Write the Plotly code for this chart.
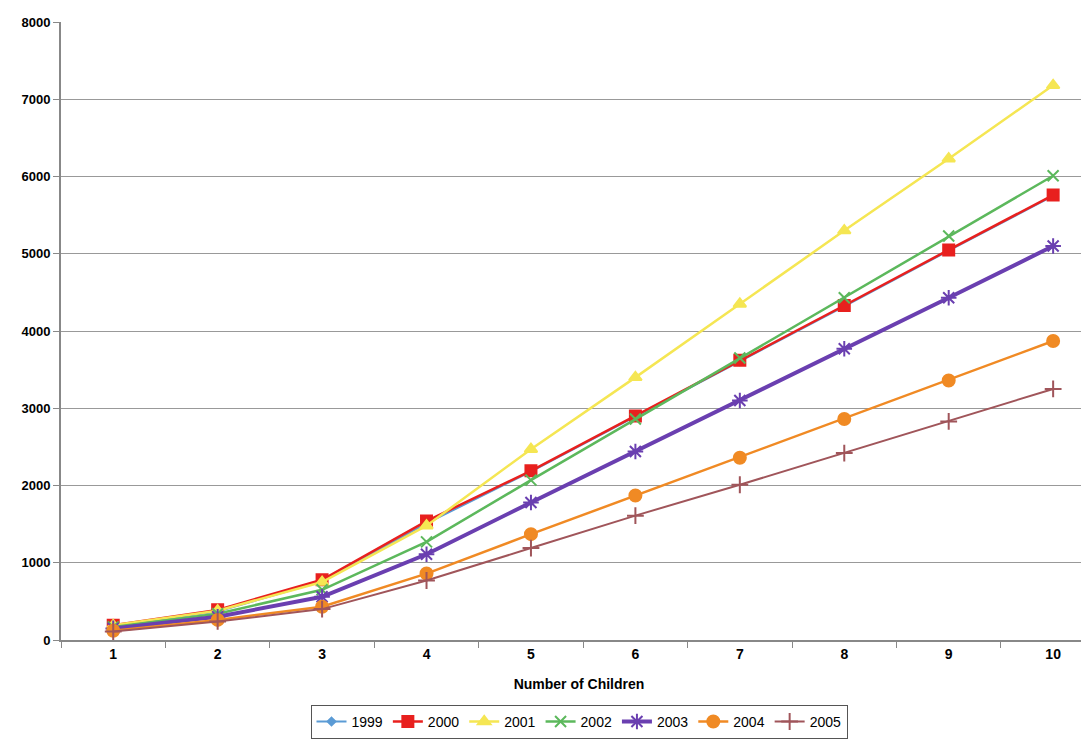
import plotly.graph_objects as go

children = [1, 2, 3, 4, 5, 6, 7, 8, 9, 10]
y1999 = [180, 370, 760, 1510, 2180, 2890, 3610, 4320, 5040, 5750]
y2000 = [190, 390, 780, 1540, 2190, 2900, 3620, 4330, 5050, 5760]
y2001 = [190, 380, 750, 1480, 2470, 3400, 4350, 5300, 6230, 7180]
y2002 = [170, 340, 650, 1270, 2070, 2860, 3650, 4430, 5230, 6010]
y2003 = [150, 300, 560, 1110, 1780, 2440, 3100, 3770, 4430, 5100]
y2004 = [120, 260, 430, 860, 1370, 1870, 2360, 2860, 3360, 3870]
y2005 = [110, 240, 400, 770, 1190, 1610, 2010, 2420, 2830, 3250]

series = [
    ("1999", y1999, "#5b9bd5", "diamond", 2, 6),
    ("2000", y2000, "#e8201e", "square", 2.5, 11),
    ("2001", y2001, "#f5e653", "triangle-up", 2.5, 11),
    ("2002", y2002, "#5cb85c", "x-thin-open", 2.5, 11),
    ("2003", y2003, "#6a3fb0", "asterisk-open", 4, 13),
    ("2004", y2004, "#f08a24", "circle", 2.5, 12),
    ("2005", y2005, "#a0555a", "cross-thin-open", 2, 12),
]

fig = go.Figure()
for name, ys, col, sym, w, sz in series:
    fig.add_trace(go.Scatter(
        x=children, y=ys, name=name, mode="lines+markers",
        line=dict(color=col, width=w),
        marker=dict(symbol=sym, size=sz, color=col, line=dict(color=col, width=2)),
    ))

fig.update_layout(
    width=1089, height=744,
    paper_bgcolor="white", plot_bgcolor="white",
    margin=dict(l=53, r=0, t=14, b=112),
    font=dict(family="Liberation Sans, Arial", size=13, color="black"),
    legend=dict(orientation="h", x=0.5, xanchor="center", y=-0.105, yanchor="top",
                bordercolor="#555", borderwidth=1, font=dict(size=14)),
)
fig.update_xaxes(
    range=[0.5, 10.42], tickvals=children, showgrid=False, automargin=False,
    showline=True, linecolor="#888", linewidth=2,
    ticktext=[f"<b>{c}</b>" for c in children],
    ticks="", minor=dict(tick0=0.5, dtick=1, ticks="outside", ticklen=6, tickcolor="#888"),
    title=dict(text="<b>Number of Children</b>", font=dict(size=14), standoff=18),
    tickfont=dict(size=14),
)
fig.update_yaxes(
    range=[0, 8000], dtick=1000, showgrid=True, gridcolor="#999", gridwidth=1,
    automargin=False, showline=True, linecolor="#888", linewidth=2,
    ticks="outside", ticklen=6, tickcolor="#888",
    tickvals=list(range(0, 8001, 1000)),
    ticktext=[f"<b>{v}</b>" for v in range(0, 8001, 1000)],
    tickfont=dict(size=13), zeroline=False,
)
fig.write_html("out.html")
